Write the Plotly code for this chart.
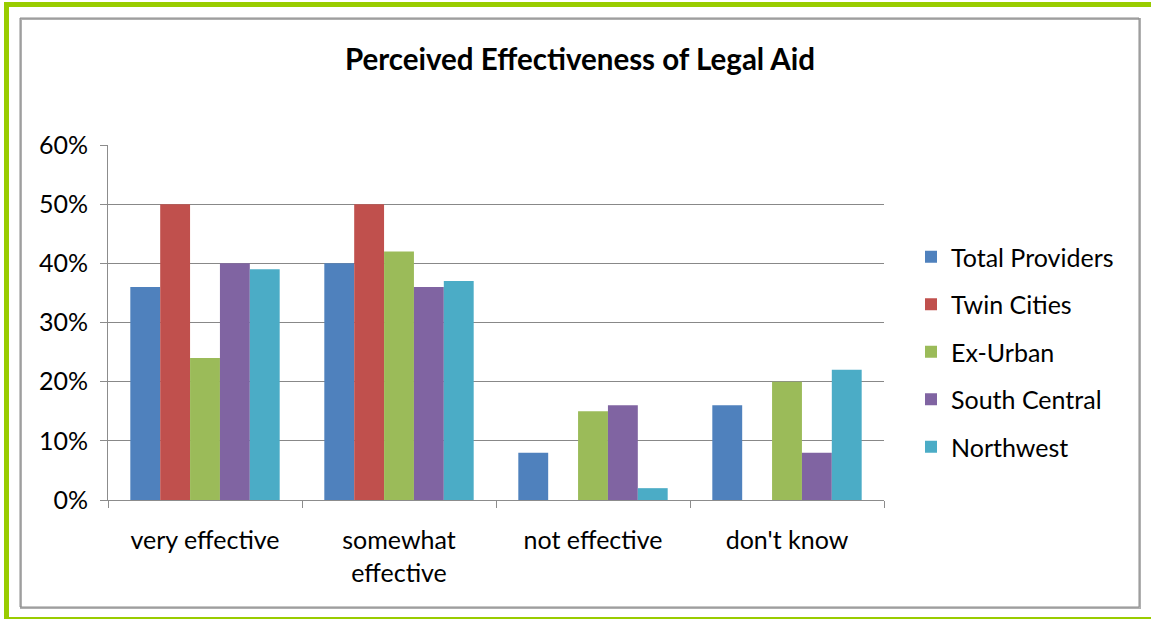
import plotly.graph_objects as go

# Survey responses by region
categories = ["very effective", "somewhat<br>effective", "not effective", "don't know"]
series_names = ["Total Providers", "Twin Cities", "Ex-Urban", "South Central", "Northwest"]
total_providers = [0.36, 0.40, 0.08, 0.16]
twin_cities = [0.50, 0.50, 0.00, 0.00]
ex_urban = [0.24, 0.42, 0.15, 0.20]
south_central = [0.40, 0.36, 0.16, 0.08]
northwest = [0.39, 0.37, 0.02, 0.22]
y_ticks = [0, 0.1, 0.2, 0.3, 0.4, 0.5, 0.6]

series_values = [total_providers, twin_cities, ex_urban, south_central, northwest]
colors = ["#4F81BD", "#C0504D", "#9BBB59", "#8064A2", "#4BACC6"]

FONT = "Lato"
FS = 25
W, H = 1151, 619
# plot area in pixels
L, R, T, B = 108, 884, 145, 500


def fx(px):
    return (px - L) / (R - L)


def fy(py):
    return (B - py) / (B - T)


fig = go.Figure()
for name, vals, col in zip(series_names, series_values, colors):
    fig.add_trace(go.Bar(
        x=categories, y=vals, name=name, marker_color=col,
        marker_line_width=0, legendgroup=name,
    ))

shapes = []
# outer green frame
green = "#99CC00"
shapes.append(dict(type="rect", xref="paper", yref="paper",
                   x0=fx(4), x1=fx(1160), y0=fy(2), y1=fy(7),
                   fillcolor=green, line_width=0, layer="below"))
shapes.append(dict(type="rect", xref="paper", yref="paper",
                   x0=fx(4), x1=fx(9), y0=fy(2), y1=fy(625),
                   fillcolor=green, line_width=0, layer="below"))
shapes.append(dict(type="rect", xref="paper", yref="paper",
                   x0=fx(4), x1=fx(1160), y0=fy(617), y1=fy(625),
                   fillcolor=green, line_width=0, layer="below"))
# inner gray frame with a soft shadow on the right and bottom
shapes.append(dict(type="rect", xref="paper", yref="paper",
                   x0=fx(21), x1=fx(1140), y0=fy(19), y1=fy(608),
                   line=dict(color="#B0B0B0", width=2), layer="below"))
shapes.append(dict(type="rect", xref="paper", yref="paper",
                   x0=fx(20), x1=fx(1139), y0=fy(18), y1=fy(607),
                   line=dict(color="#8C8C8C", width=1), layer="below"))

fig.update_layout(
    width=W, height=H,
    margin=dict(l=L, r=W - R, t=T, b=H - B),
    paper_bgcolor="white", plot_bgcolor="white",
    font=dict(family=FONT, size=FS, color="#000000"),
    title=dict(text="<b>Perceived Effectiveness of Legal Aid</b>",
               x=fx(580), xref="paper", xanchor="center",
               y=1 - 60 / H, yref="container", yanchor="middle",
               font=dict(family=FONT, size=29.5, color="#000000")),
    barmode="group", bargap=0.23, bargroupgap=0,
    showlegend=True,
    legend=dict(x=fx(911), xanchor="left", y=fy(352), yanchor="middle",
                font=dict(family=FONT, size=FS), tracegroupgap=12,
                traceorder="grouped", bgcolor="rgba(0,0,0,0)"),
    shapes=shapes,
)

fig.update_yaxes(
    range=[0, 0.6], tickvals=y_ticks, tickformat=".0%",
    showgrid=True, gridcolor="#888888", gridwidth=1,
    showline=True, linecolor="#8C8C8C", linewidth=1,
    ticks="outside", ticklen=7, tickcolor="#8C8C8C",
    ticklabelstandoff=7, zeroline=False,
    tickfont=dict(family=FONT, size=FS),
)
fig.update_xaxes(
    showline=True, linecolor="#8C8C8C", linewidth=1,
    ticks="outside", ticklen=7, tickcolor="#8C8C8C", tickson="boundaries",
    ticklabelstandoff=18, showgrid=False,
    tickfont=dict(family=FONT, size=FS),
)

fig.write_html("out.html")
